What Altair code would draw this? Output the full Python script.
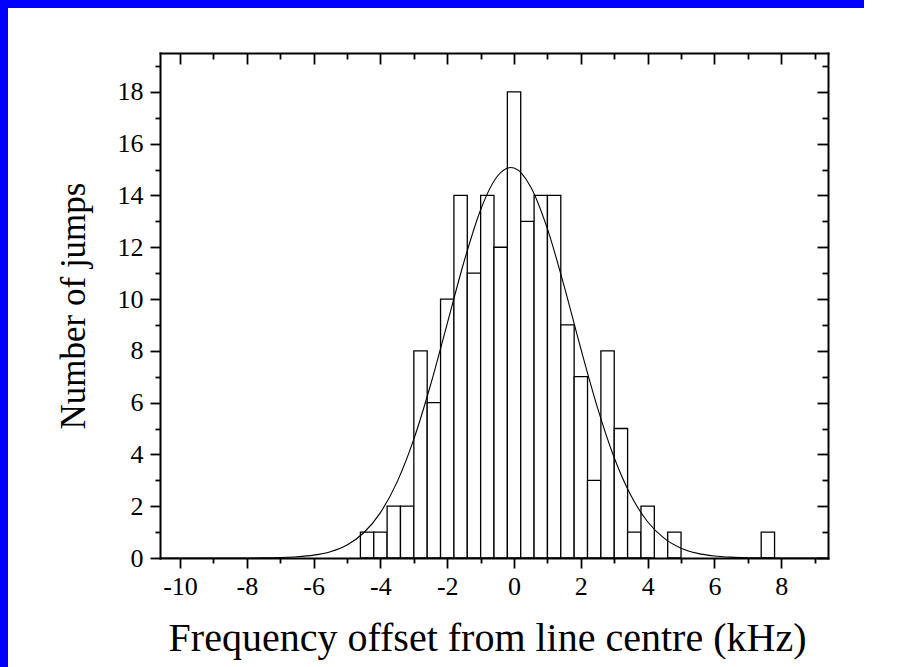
import altair as alt
import pandas as pd

# ---- data ----
bin_centers = [-4.4, -4.0, -3.6, -3.2, -2.8, -2.4, -2.0, -1.6, -1.2, -0.8, -0.4, 0.0,
               0.4, 0.8, 1.2, 1.6, 2.0, 2.4, 2.8, 3.2, 3.6, 4.0, 4.8, 7.6]
counts = [1, 1, 2, 2, 8, 6, 10, 14, 11, 14, 12, 18,
          13, 14, 14, 9, 7, 3, 8, 5, 1, 2, 1, 1]
bin_width = 0.4

fit_x = [-10.6, -9.0, -8.0, -7.5, -7.0, -6.5, -6.0, -5.5, -5.0, -4.5, -4.0, -3.5, -3.0,
         -2.5, -2.0, -1.5, -1.0, -0.5, -0.1, 0.0, 0.5, 1.0, 1.5, 2.0, 2.5, 3.0, 3.5,
         4.0, 4.5, 5.0, 5.5, 6.0, 6.5, 7.0, 7.5, 8.0, 9.4]
fit_y = [0.0, 0.0, 0.001, 0.005, 0.018, 0.046, 0.11, 0.244, 0.505, 0.975, 1.754, 2.94, 4.59,
         6.68, 9.05, 11.43, 13.45, 14.74, 15.08, 15.06, 14.33, 12.71, 10.50, 8.08, 5.80, 3.87, 2.41,
         1.40, 0.756, 0.381, 0.179, 0.078, 0.032, 0.012, 0.004, 0.001, 0.0]

x_major = [-10, -8, -6, -4, -2, 0, 2, 4, 6, 8]
x_minor = [-9, -7, -5, -3, -1, 1, 3, 5, 7, 9]
y_major = [0, 2, 4, 6, 8, 10, 12, 14, 16, 18]
y_minor = [1, 3, 5, 7, 9, 11, 13, 15, 17, 19]

X_DOMAIN = [-10.6, 9.4]
Y_DOMAIN = [0, 19.5]

x_title = "Frequency offset from line centre (kHz)"
y_title = "Number of jumps"

# ---- tables ----
hist = pd.DataFrame({
    "center": bin_centers,
    "count": counts,
})
hist["x0"] = hist["center"] - bin_width / 2
hist["x1"] = hist["center"] + bin_width / 2
fit = pd.DataFrame({"x": fit_x, "y": fit_y})

W, H = 668, 505
FONT = "Liberation Serif"

xs = alt.Scale(domain=X_DOMAIN, nice=False, zero=False)
ys = alt.Scale(domain=Y_DOMAIN, nice=False, zero=False)

common = dict(grid=False, tickColor="black", tickWidth=1.8, zindex=1,
              domainColor="black", domainWidth=2, domainCap="square")

bars = alt.Chart(hist).mark_bar(fill="white", stroke="black", strokeWidth=1.3).encode(
    x=alt.X("x0:Q", scale=xs, axis=alt.Axis(
        orient="bottom",
        values=x_major, tickSize=10, labelFont=FONT, labelFontSize=26, labelColor="black",
        labelPadding=5, labelExpr="'' + datum.value",
        title=x_title, titleFont=FONT, titleFontSize=40, titleFontWeight="normal",
        titleColor="black", titleX=W / 2 - 7, titleY=92, titleAlign="center",
        titleBaseline="alphabetic", domain=True, **common)),
    x2="x1:Q",
    y=alt.Y("count:Q", scale=ys, axis=alt.Axis(
        orient="left",
        values=y_major, tickSize=10, labelFont=FONT, labelFontSize=26, labelColor="black",
        labelPadding=7, labelExpr="'' + datum.value",
        title=y_title, titleFont=FONT, titleFontSize=35, titleFontWeight="normal",
        titleColor="black", titleX=-76, titleY=H / 2, titleAngle=270, titleAlign="center",
        titleBaseline="alphabetic", domain=True, **common)),
    y2=alt.datum(0),
)

curve = alt.Chart(fit).mark_line(color="black", strokeWidth=1.1, interpolate="monotone").encode(
    x=alt.X("x:Q", scale=xs, axis=alt.Axis(orient="bottom", values=x_minor, tickSize=5,
                                           labels=False, title="", domain=False, **common)),
    y=alt.Y("y:Q", scale=ys, axis=alt.Axis(orient="left", values=y_minor, tickSize=5,
                                           labels=False, title="", domain=False, **common)),
)

frame_major = alt.Chart(fit).mark_line(opacity=0).encode(
    x=alt.X("x:Q", scale=xs, axis=alt.Axis(orient="bottom", offset=-H, values=x_major,
                                           tickSize=11, labels=False, title="",
                                           domain=True, **common)),
    y=alt.Y("y:Q", scale=ys, axis=alt.Axis(orient="left", offset=-W, values=y_major,
                                           tickSize=11, labels=False, title="",
                                           domain=True, **common)),
)

frame_minor = alt.Chart(fit).mark_line(opacity=0).encode(
    x=alt.X("x:Q", scale=xs, axis=alt.Axis(orient="bottom", offset=-H, values=x_minor,
                                           tickSize=6, labels=False, title="",
                                           domain=False, **common)),
    y=alt.Y("y:Q", scale=ys, axis=alt.Axis(orient="left", offset=-W, values=y_minor,
                                           tickSize=6, labels=False, title="",
                                           domain=False, **common)),
)

chart = alt.layer(bars, curve, frame_major, frame_minor).resolve_axis(
    x="independent", y="independent"
).properties(
    width=W, height=H,
    padding={"left": 152, "top": 45, "right": 69, "bottom": 109},
    autosize=alt.AutoSizeParams(type="none"),
    background="white",
).configure_view(stroke="transparent")

page_css = (
    "html{background:#ffffff;}"
    "body{margin:0;padding:8px 0 0 8px;min-height:100vh;box-sizing:border-box;overflow:hidden;"
    "background:linear-gradient(#0000ff,#0000ff) 0 0/864px 8px no-repeat,"
    "linear-gradient(#0000ff,#0000ff) 0 0/8px 100% no-repeat,#ffffff;}"
)

chart.save("out.html", embed_options={
    "renderer": "svg", "actions": False,
    "defaultStyle": page_css,
})
